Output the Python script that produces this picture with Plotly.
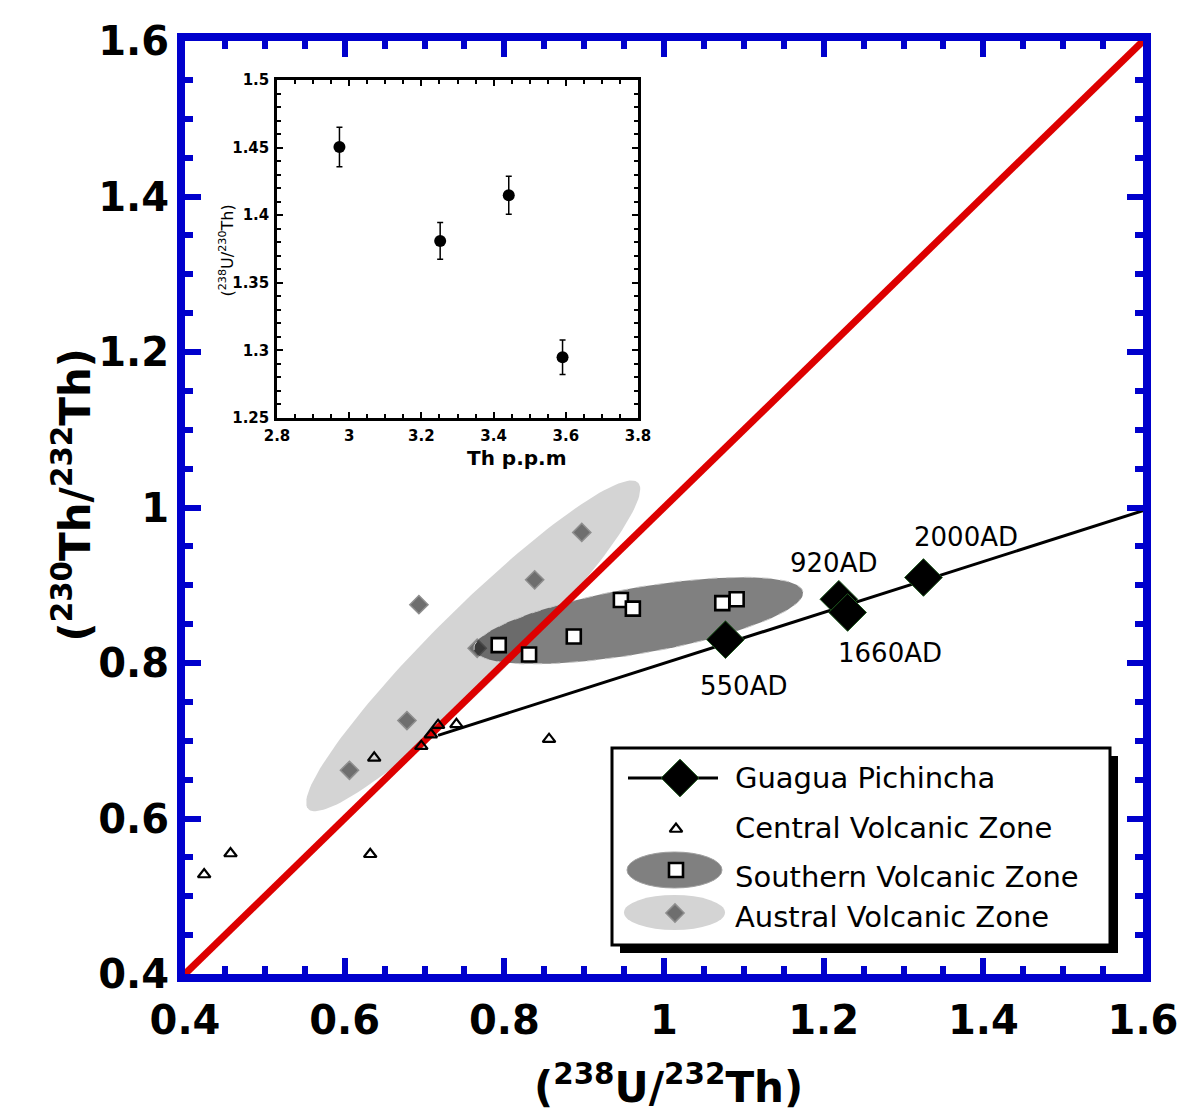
import numpy as np
import plotly.graph_objects as go

# ---------------- data ----------------
gp_x = [1.077, 1.219, 1.230, 1.325]
gp_y = [0.830, 0.882, 0.865, 0.910]
gp_labels = ["550AD", "920AD", "1660AD", "2000AD"]
gp_line_x = [0.717, 1.6]
gp_line_y = [0.707, 0.996]

cvz_x = [0.424, 0.457, 0.632, 0.637, 0.696, 0.708, 0.717, 0.740, 0.856]
cvz_y = [0.528, 0.555, 0.554, 0.678, 0.693, 0.708, 0.720, 0.721, 0.702]

svz_x = [0.793, 0.831, 0.887, 0.946, 0.961, 1.073, 1.091]
svz_y = [0.823, 0.811, 0.834, 0.881, 0.870, 0.877, 0.882]

avz_x = [0.606, 0.678, 0.766, 0.693, 0.838, 0.897]
avz_y = [0.662, 0.726, 0.819, 0.875, 0.907, 0.968]

equiline = [0.4, 1.6]

inset_th = [2.973, 3.252, 3.442, 3.591]
inset_ratio = [1.4504, 1.381, 1.4148, 1.2949]
inset_err = [0.0146, 0.0136, 0.0141, 0.0128]

# ---------------- layout geometry ----------------
W, H = 1189, 1118
L, R, T, B = 185, 46, 41, 144
PW, PH = W - L - R, H - T - B
XR = [0.4, 1.6]
YR = [0.4, 1.6]
sx = PW / (XR[1] - XR[0])
sy = PH / (YR[1] - YR[0])


def px_to_data(px, py):
    return XR[0] + (px - L) / sx, YR[0] + (T + PH - py) / sy


def PX(px):
    return (px - L) / PW


def PY(py):
    return (T + PH - py) / PH


def ellipse(cx, cy, a_px, b_px, ang_deg, n=160):
    t = np.linspace(0, 2 * np.pi, n)
    th = np.deg2rad(ang_deg)
    dx = a_px * np.cos(t) * np.cos(th) - b_px * np.sin(t) * np.sin(th)
    dy = a_px * np.cos(t) * np.sin(th) + b_px * np.sin(t) * np.cos(th)
    return cx + dx / sx, cy + dy / sy


BLUE = "#0000cc"
FONT = "DejaVu Sans"

fig = go.Figure()

# Austral field + points
ax_, ay_ = ellipse(0.761, 0.822, 232, 38, 44.7)
fig.add_trace(go.Scatter(x=ax_, y=ay_, mode="lines", fill="toself",
                         fillcolor="#d4d4d4", line=dict(width=0, color="#d4d4d4"),
                         hoverinfo="skip", showlegend=False))
fig.add_trace(go.Scatter(x=avz_x, y=avz_y, mode="markers",
                         marker=dict(symbol="diamond", size=14, color="#6e6e6e",
                                     line=dict(color="#8e8e8e", width=1.5)),
                         showlegend=False))
# Southern field
sx_, sy_ = ellipse(0.968, 0.8545, 167, 33, 9.9)
fig.add_trace(go.Scatter(x=sx_, y=sy_, mode="lines", fill="toself",
                         fillcolor="rgba(12,12,12,0.52)",
                         line=dict(width=1, color="#c8c8c8", dash="dash"),
                         hoverinfo="skip", showlegend=False))

# equiline
fig.add_trace(go.Scatter(x=equiline, y=equiline, mode="lines",
                         line=dict(color="#dd0000", width=7), showlegend=False))

# Guagua Pichincha trend line
fig.add_trace(go.Scatter(x=gp_line_x, y=gp_line_y, mode="lines",
                         line=dict(color="black", width=3), showlegend=False))

# CVZ triangles
fig.add_trace(go.Scatter(x=cvz_x, y=cvz_y, mode="markers",
                         marker=dict(symbol="triangle-up-open", size=11, color="black",
                                     line=dict(color="black", width=2.2)),
                         showlegend=False))
# SVZ squares
fig.add_trace(go.Scatter(x=svz_x, y=svz_y, mode="markers",
                         marker=dict(symbol="square", size=14, color="white",
                                     line=dict(color="black", width=2.6)),
                         showlegend=False))
# GP diamonds
fig.add_trace(go.Scatter(x=gp_x, y=gp_y, mode="markers",
                         marker=dict(symbol="diamond", size=29, color="black",
                                     line=dict(color="#1f5a1f", width=1)),
                         showlegend=False))

# labels for GP points
lab_pos = [(743, 686), (833, 563), (890, 653), (966, 537)]
for lab, (px, py) in zip(gp_labels, lab_pos):
    dx, dy = px_to_data(px, py)
    fig.add_annotation(x=dx, y=dy, xref="x", yref="y", text=lab, showarrow=False,
                       font=dict(family=FONT, size=26, color="black"))

# ---------------- legend (drawn manually) ----------------
shapes = []
shapes.append(dict(type="rect", xref="paper", yref="paper", layer="below",
                   x0=PX(620), x1=PX(1118), y0=PY(953), y1=PY(756),
                   fillcolor="black", line=dict(width=0)))
shapes.append(dict(type="rect", xref="paper", yref="paper", layer="below",
                   x0=PX(612), x1=PX(1110), y0=PY(945), y1=PY(748),
                   fillcolor="white", line=dict(color="black", width=3)))
shapes.append(dict(type="line", xref="paper", yref="paper", layer="below",
                   x0=PX(628), x1=PX(718), y0=PY(778), y1=PY(778),
                   line=dict(color="black", width=3)))
shapes.append(dict(type="circle", xref="paper", yref="paper", layer="below",
                   x0=PX(627), x1=PX(722), y0=PY(888), y1=PY(852),
                   fillcolor="#808080", line=dict(color="#a0a0a0", width=1)))
shapes.append(dict(type="circle", xref="paper", yref="paper", layer="below",
                   x0=PX(624), x1=PX(725), y0=PY(930), y1=PY(895),
                   fillcolor="#d4d4d4", line=dict(width=0)))

leg_items = [
    ("Guagua Pichincha", 778, dict(symbol="diamond", size=29, color="black",
                                   line=dict(color="#1f5a1f", width=1)), (680, 778)),
    ("Central Volcanic Zone", 828, dict(symbol="triangle-up-open", size=11, color="black",
                                        line=dict(color="black", width=2.2)), (676, 829)),
    ("Southern Volcanic Zone", 877, dict(symbol="square", size=14, color="white",
                                         line=dict(color="black", width=2.6)), (676, 870)),
    ("Austral Volcanic Zone", 917, dict(symbol="diamond", size=14, color="#6e6e6e",
                                       line=dict(color="#8e8e8e", width=1.5)), (675, 913)),
]
for text, ty, mk, (mx, my) in leg_items:
    dx, dy = px_to_data(mx, my)
    fig.add_trace(go.Scatter(x=[dx], y=[dy], mode="markers", marker=mk,
                             showlegend=False, hoverinfo="skip", cliponaxis=False))
    fig.add_annotation(x=PX(733), y=PY(ty), xref="paper", yref="paper", text=text,
                       showarrow=False, xanchor="left", yanchor="middle",
                       font=dict(family=FONT, size=29, color="black"))

# ---------------- inset ----------------
fig.add_trace(go.Scatter(x=inset_th, y=inset_ratio, mode="markers",
                         xaxis="x2", yaxis="y2",
                         marker=dict(symbol="circle", size=12, color="black"),
                         error_y=dict(type="data", array=inset_err, visible=True,
                                      color="black", thickness=1.5, width=3),
                         showlegend=False))

fig.add_annotation(x=PX(214), y=PY(203), xref="paper", yref="paper",
                   text="(<sup>238</sup>U/<sup>230</sup>Th)", textangle=-90,
                   showarrow=False, font=dict(family=FONT, size=16, color="black"))
fig.add_annotation(x=PX(465), y=PY(458), xref="paper", yref="paper",
                   text="<b>Th p.p.m</b>", showarrow=False,
                   font=dict(family=FONT, size=20, color="black"))

# main axis titles
fig.add_annotation(x=PX(43), y=PY(495), xref="paper", yref="paper",
                   text="<b>(<sup>230</sup>Th/<sup>232</sup>Th)</b>", textangle=-90,
                   showarrow=False, font=dict(family=FONT, size=42, color="black"))
fig.add_annotation(x=PX(668), y=PY(1114), xref="paper", yref="paper",
                   yanchor="bottom",
                   text="<b>(<sup>238</sup>U/<sup>232</sup>Th)</b>",
                   showarrow=False, font=dict(family=FONT, size=42, color="black"))

main_tickfont = dict(family=FONT, size=40, color="black", weight="bold")
inset_tickfont = dict(family=FONT, size=15, color="black", weight="bold")

fig.update_layout(
    width=W, height=H,
    margin=dict(l=L, r=R, t=T, b=B, pad=0),
    paper_bgcolor="white", plot_bgcolor="white",
    showlegend=False,
    shapes=shapes,
    xaxis=dict(range=XR, dtick=0.2, tick0=0.4, showgrid=False, zeroline=False,
               showline=True, linecolor=BLUE, linewidth=8, mirror="ticks",
               ticks="inside", ticklen=16, tickwidth=6, tickcolor=BLUE,
               minor=dict(dtick=0.05, ticks="inside", ticklen=8, tickwidth=6,
                          tickcolor=BLUE, showgrid=False),
               tickfont=main_tickfont, ticklabelstandoff=4),
    yaxis=dict(range=YR, dtick=0.2, tick0=0.4, showgrid=False, zeroline=False,
               showline=True, linecolor=BLUE, linewidth=8, mirror="ticks",
               ticks="inside", ticklen=16, tickwidth=6, tickcolor=BLUE,
               minor=dict(dtick=0.05, ticks="inside", ticklen=8, tickwidth=6,
                          tickcolor=BLUE, showgrid=False),
               tickfont=main_tickfont, ticklabelstandoff=0),
    xaxis2=dict(domain=[PX(277), PX(638)], anchor="y2", range=[2.8, 3.8],
                dtick=0.2, tick0=2.8, showgrid=False, zeroline=False,
                showline=True, linecolor="black", linewidth=2.5, mirror="ticks",
                ticks="inside", ticklen=6, tickwidth=2, tickcolor="black",
                minor=dict(dtick=0.05, ticks="inside", ticklen=4, tickwidth=2,
                           tickcolor="black", showgrid=False),
                tickfont=inset_tickfont, ticklabelstandoff=2),
    yaxis2=dict(domain=[PY(418), PY(80)], anchor="x2", range=[1.25, 1.5],
                dtick=0.05, tick0=1.25, showgrid=False, zeroline=False,
                showline=True, linecolor="black", linewidth=2.5, mirror="ticks",
                ticks="inside", ticklen=6, tickwidth=2, tickcolor="black",
                minor=dict(dtick=0.01, ticks="inside", ticklen=4, tickwidth=2,
                           tickcolor="black", showgrid=False),
                tickfont=inset_tickfont, ticklabelstandoff=2),
)

fig.write_html("out.html", config={"displayModeBar": False},
               post_script="document.body.style.margin='0';")
